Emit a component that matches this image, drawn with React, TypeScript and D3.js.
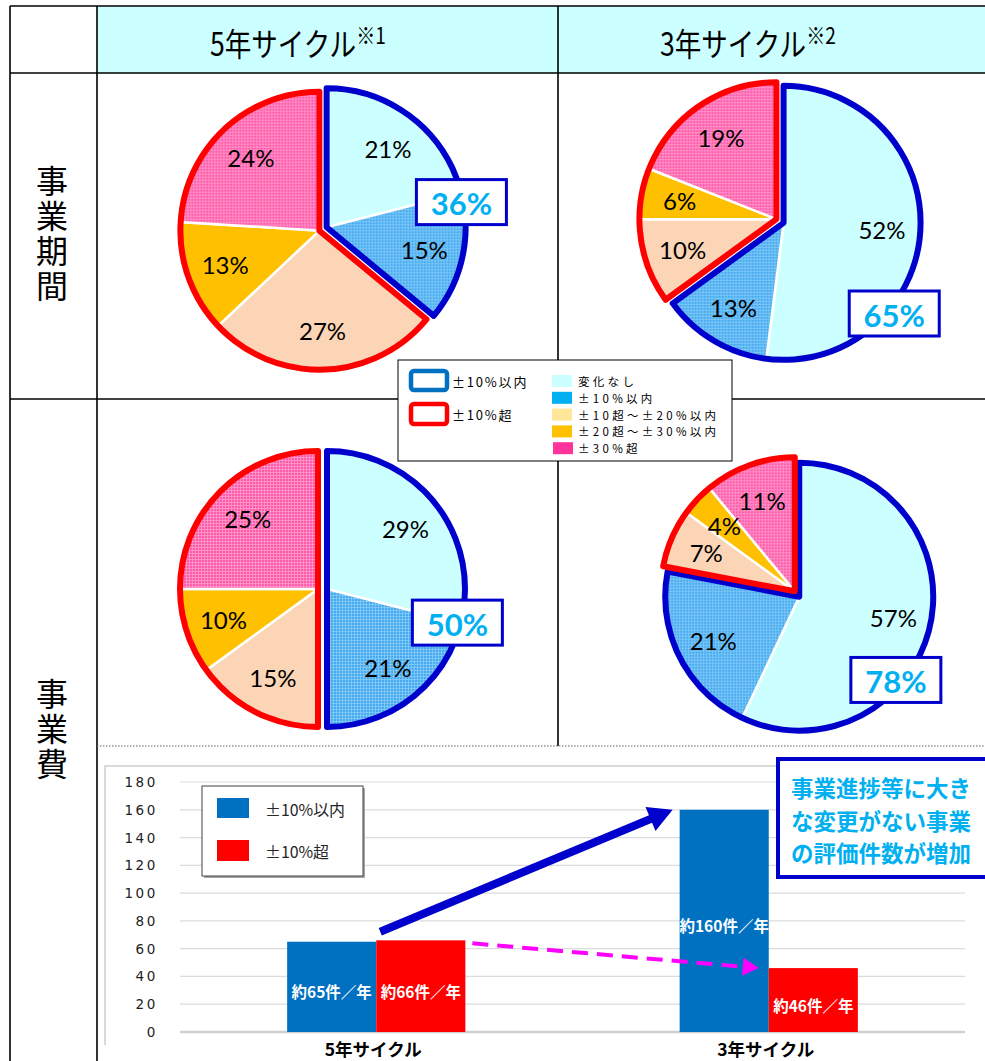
import React from "react";
import * as d3 from "d3";

// ---------- data ----------
const sliceCategories = ["変化なし", "±10%以内", "±10超～±20%以内", "±20超～±30%以内", "±30%超"];
const legendSwatchColors = ["#ccffff", "#00b0f0", "#ffe699", "#ffc000", "#ff3399"];
const periodFiveYear = [21, 15, 27, 13, 24];
const periodThreeYear = [52, 13, 10, 6, 19];
const costFiveYear = [29, 21, 15, 10, 25];
const costThreeYear = [57, 21, 7, 4, 11];
const cycleLabels = ["5年サイクル", "3年サイクル"];
const cycleNotes = ["※1", "※2"];
const rowLabels = ["事業期間", "事業費"];
const groupLabels = ["±10%以内", "±10%超"];
const barWithin = [65, 160];
const barOver = [66, 46];
const barWithinLabels = ["約65件／年", "約160件／年"];
const barOverLabels = ["約66件／年", "約46件／年"];
const yTicks = [0, 20, 40, 60, 80, 100, 120, 140, 160, 180];
const calloutLines = ["事業進捗等に大き", "な変更がない事業", "の評価件数が増加"];

// ---------- styles ----------
const JP = "'Noto Sans CJK JP', 'Noto Sans', sans-serif";
const LAT = "Lato, 'Open Sans', sans-serif";
const sliceFills = ["#ccffff", "url(#gridBlue)", "#fbd5b5", "#ffc000", "url(#gridPink)"];
const groupStroke = ["#0000cc", "#ff0000"];

const panels = [
  { values: periodFiveYear, cx: 323, cy: 229, r: 139, explode: 4, calloutDeg: 79, calloutR: 141 },
  { values: periodThreeYear, cx: 780, cy: 221, r: 137, explode: 4, calloutDeg: 129, calloutR: 147 },
  { values: costFiveYear, cx: 322.5, cy: 589, r: 138, explode: 4.5, calloutDeg: 104, calloutR: 139 },
  { values: costThreeYear, cx: 797, cy: 594, r: 134, explode: 3.5, calloutDeg: 131, calloutR: 131 },
];

function PiePanel({ values, cx, cy, r, explode, calloutDeg, calloutR }: any) {
  const arcs = d3.pie<number>().sort(null).value((d) => d)(values);
  const split = arcs[1].endAngle;
  const groups = [
    { start: 0, end: split },
    { start: split, end: 2 * Math.PI },
  ];
  const off = (g: any) => {
    const m = (g.start + g.end) / 2;
    return [Math.sin(m) * explode, -Math.cos(m) * explode];
  };
  const arcGen: any = d3.arc().innerRadius(0).outerRadius(r);
  const labelArc: any = d3.arc().innerRadius(r * 0.72).outerRadius(r * 0.72);
  const total = values[0] + values[1];
  const a = (calloutDeg * Math.PI) / 180;
  const bx = cx + Math.sin(a) * calloutR;
  const by = cy - Math.cos(a) * calloutR;
  return (
    <g>
      {arcs.map((d, i) => {
        const g = groups[i < 2 ? 0 : 1];
        const [ox, oy] = off(g);
        return (
          <path
            key={"s" + i}
            d={arcGen(d)}
            transform={`translate(${cx + ox},${cy + oy})`}
            fill={sliceFills[i]}
            stroke="#ffffff"
            strokeWidth={2.5}
          />
        );
      })}
      {groups.map((g, k) => {
        const [ox, oy] = off(g);
        return (
          <path
            key={"g" + k}
            d={arcGen({ startAngle: g.start, endAngle: g.end })}
            transform={`translate(${cx + ox},${cy + oy})`}
            fill="none"
            stroke={groupStroke[k]}
            strokeWidth={6}
            strokeLinejoin="round"
          />
        );
      })}
      {arcs.map((d, i) => {
        const g = groups[i < 2 ? 0 : 1];
        const [ox, oy] = off(g);
        const [lx, ly] = labelArc.centroid(d);
        return (
          <text
            key={"l" + i}
            x={cx + ox + lx}
            y={cy + oy + ly}
            textAnchor="middle"
            dominantBaseline="central"
            fontFamily={LAT}
            fontSize={24}
            fill="#000"
          >
            {values[i]}%
          </text>
        );
      })}
      <rect x={bx - 45} y={by - 22.5} width={90} height={45} fill="#fff" stroke="#0000cc" strokeWidth={3} />
      <text
        x={bx}
        y={by + 1}
        textAnchor="middle"
        dominantBaseline="central"
        fontFamily={LAT}
        fontWeight={700}
        fontSize={31}
        fill="#00b0f0"
      >
        {total}%
      </text>
    </g>
  );
}

function arrowPolygon(x1: number, y1: number, x2: number, y2: number, sw: number, hl: number, hw: number) {
  const dx = x2 - x1, dy = y2 - y1;
  const len = Math.hypot(dx, dy);
  const ux = dx / len, uy = dy / len;
  const px = -uy, py = ux;
  const bx = x2 - ux * hl, by = y2 - uy * hl;
  const pts = [
    [x1 + px * sw / 2, y1 + py * sw / 2],
    [bx + px * sw / 2, by + py * sw / 2],
    [bx + px * hw / 2, by + py * hw / 2],
    [x2, y2],
    [bx - px * hw / 2, by - py * hw / 2],
    [bx - px * sw / 2, by - py * sw / 2],
    [x1 - px * sw / 2, y1 - py * sw / 2],
  ];
  return pts.map((p) => p.join(",")).join(" ");
}

export default function App() {
  const W = 985, H = 1061;

  // bar chart scales
  const x = d3.scaleBand().domain(cycleLabels).range([180, 965]).padding(0);
  const y = d3.scaleLinear().domain([0, 180]).range([1032, 782]);
  const bw = x.bandwidth() * 0.227;
  const cx0 = (x(cycleLabels[0]) as number) + x.bandwidth() / 2;
  const cx1 = (x(cycleLabels[1]) as number) + x.bandwidth() / 2;

  // arrows
  const blueStart = [cx0 + 4, y(barWithin[0]) - 10];
  const blueEnd = [cx1 - bw - 7, y(barWithin[1])];
  const magStart = [cx0 + bw + 7, y(barOver[0]) + 3];
  const magEnd = [cx1 - 10, y(barOver[1])];
  const mdx = magEnd[0] - magStart[0], mdy = magEnd[1] - magStart[1];
  const mlen = Math.hypot(mdx, mdy);
  const mux = mdx / mlen, muy = mdy / mlen;
  const mhl = 16, mhw = 18;
  const mbx = magEnd[0] - mux * mhl, mby = magEnd[1] - muy * mhl;

  const headerStarts = [210, 660];
  const rowCenters = [235, 730];

  return (
    <svg width={W} height={H} style={{ display: "block" }} fontFamily={JP}>
      <style>{`body{margin:0}`}</style>
      <defs>
        <pattern id="gridBlue" width="3" height="3" patternUnits="userSpaceOnUse">
          <rect width="3" height="3" fill="#45aaf0" />
          <path d="M0 0.5H3M0.5 0V3" stroke="#88ccf8" strokeWidth="0.8" />
        </pattern>
        <pattern id="gridPink" width="3" height="3" patternUnits="userSpaceOnUse">
          <rect width="3" height="3" fill="#ff5aaa" />
          <path d="M0 0.5H3M0.5 0V3" stroke="#ff9ccb" strokeWidth="0.8" />
        </pattern>
      </defs>
      <rect width={W} height={H} fill="#fff" />

      {/* table */}
      <rect x={97} y={6} width={W - 97} height={67} fill="#ccffff" />
      <g stroke="#000" strokeWidth={1.6}>
        <line x1={10} y1={6} x2={W} y2={6} />
        <line x1={10} y1={73} x2={W} y2={73} />
        <line x1={10} y1={399} x2={W} y2={399} />
        <line x1={10} y1={6} x2={10} y2={H} />
        <line x1={97} y1={6} x2={97} y2={H} />
        <line x1={558} y1={6} x2={558} y2={746} />
      </g>
      <line x1={97} y1={746} x2={W} y2={746} stroke="#666" strokeWidth={1} strokeDasharray="1.5 1.5" />

      {/* header */}
      {cycleLabels.map((c, i) => (
        <g key={c} transform={`translate(${headerStarts[i]},56) scale(0.83,1)`}>
          <text x={0} y={0} fontSize={32} fill="#000">
            {c}
            <tspan fontSize={23} dy={-12}>
              {cycleNotes[i]}
            </tspan>
          </text>
        </g>
      ))}

      {/* row labels (vertical) */}
      {rowLabels.map((lab, i) => (
        <text
          key={lab}
          x={52}
          y={rowCenters[i]}
          textAnchor="middle"
          fontSize={32}
          letterSpacing={3}
          style={{ writingMode: "vertical-rl" }}
          fill="#000"
        >
          {lab}
        </text>
      ))}

      {/* pies */}
      {panels.map((p, i) => (
        <PiePanel key={i} {...p} />
      ))}

      {/* pie legend */}
      <g>
        <rect x={398} y={360} width={334} height={101} fill="#fff" stroke="#000" strokeWidth={1} />
        <rect x={411} y={371} width={36} height={19} rx={3} fill="#fff" stroke="#0070c0" strokeWidth={4.5} />
        <rect x={411} y={404} width={36} height={20} rx={3} fill="#fff" stroke="#ff0000" strokeWidth={4.5} />
        {groupLabels.map((g, i) => (
          <text key={g} x={452} y={381 + i * 33} dominantBaseline="central" fontSize={13} letterSpacing={1.8} fill="#000">
            {g}
          </text>
        ))}
        {sliceCategories.map((c, i) => (
          <g key={c}>
            <rect x={i === 4 ? 553 : 552} y={375 + i * 16.8} width={20} height={12} fill={legendSwatchColors[i]} />
            <text x={578} y={381 + i * 16.8} dominantBaseline="central" fontSize={11.5} letterSpacing={3.3} fill="#000">
              {c}
            </text>
          </g>
        ))}
      </g>

      {/* bar chart frame */}
      <g stroke="#d9d9d9" strokeWidth={2}>
        <line x1={104} y1={766} x2={W} y2={766} />
        <line x1={105} y1={766} x2={105} y2={1045} />
      </g>
      {yTicks.map((t) => (
        <g key={t}>
          <line
            x1={180}
            x2={965}
            y1={y(t)}
            y2={y(t)}
            stroke={t === 0 ? "#cfcfcf" : "#dcdcdc"}
            strokeWidth={t === 0 ? 2.5 : 1.2}
          />
          <text
            x={158}
            y={y(t)}
            textAnchor="end"
            dominantBaseline="central"
            fontFamily="'DejaVu Sans', sans-serif"
            fontSize={13.5}
            letterSpacing={2.6}
            fill="#222"
          >
            {t}
          </text>
        </g>
      ))}

      {/* bars */}
      {cycleLabels.map((c, i) => {
        const cx = (x(c) as number) + x.bandwidth() / 2;
        return (
          <g key={c}>
            <rect x={cx - bw} y={y(barWithin[i])} width={bw} height={y(0) - y(barWithin[i])} fill="#0070c0" />
            <rect x={cx} y={y(barOver[i])} width={bw} height={y(0) - y(barOver[i])} fill="#ff0000" />
            <text
              x={cx - bw / 2}
              y={(y(barWithin[i]) + y(0)) / 2 + 4}
              textAnchor="middle"
              dominantBaseline="central"
              fontSize={15.5}
              fontWeight={700}
              fill="#fff"
            >
              {barWithinLabels[i]}
            </text>
            <text
              x={cx + bw / 2}
              y={(y(barOver[i]) + y(0)) / 2 + 5}
              textAnchor="middle"
              dominantBaseline="central"
              fontSize={15.5}
              fontWeight={700}
              fill="#fff"
            >
              {barOverLabels[i]}
            </text>
            <text x={cx - 3} y={1048} textAnchor="middle" dominantBaseline="central" fontSize={17.5} fontWeight={700} fill="#000">
              {c}
            </text>
          </g>
        );
      })}

      {/* bar legend */}
      <rect x={204} y={788} width={161} height={90} fill="#a6a6a6" />
      <rect x={202} y={786} width={161} height={90} fill="#fff" stroke="#404040" strokeWidth={1} />
      <rect x={217} y={798} width={32} height={20} fill="#0070c0" />
      <rect x={217} y={840} width={32} height={21} fill="#ff0000" />
      <text x={265} y={809} dominantBaseline="central" fontSize={16} textLength={80} lengthAdjust="spacingAndGlyphs" fill="#262626">
        {groupLabels[0]}
      </text>
      <text x={265} y={851} dominantBaseline="central" fontSize={16} textLength={64} lengthAdjust="spacingAndGlyphs" fill="#262626">
        {groupLabels[1]}
      </text>

      {/* arrows */}
      <polygon points={arrowPolygon(blueStart[0], blueStart[1], blueEnd[0], blueEnd[1], 8, 24, 26)} fill="#0000cc" />
      <line
        x1={magStart[0]}
        y1={magStart[1]}
        x2={mbx}
        y2={mby}
        stroke="#ff00ff"
        strokeWidth={4}
        strokeDasharray="16 9"
      />
      <polygon
        points={[
          [magEnd[0], magEnd[1]],
          [mbx - muy * mhw / 2, mby + mux * mhw / 2],
          [mbx + muy * mhw / 2, mby - mux * mhw / 2],
        ]
          .map((p) => p.join(","))
          .join(" ")}
        fill="#ff00ff"
      />

      {/* callout */}
      <rect x={778} y={759} width={215} height={118} fill="#fff" stroke="#0000cc" strokeWidth={4} />
      {calloutLines.map((l, i) => (
        <text
          key={l}
          x={881}
          y={787 + i * 32.5}
          textAnchor="middle"
          dominantBaseline="central"
          fontSize={22.5}
          fontWeight={700}
          fill="#00b0f0"
        >
          {l}
        </text>
      ))}
    </svg>
  );
}
